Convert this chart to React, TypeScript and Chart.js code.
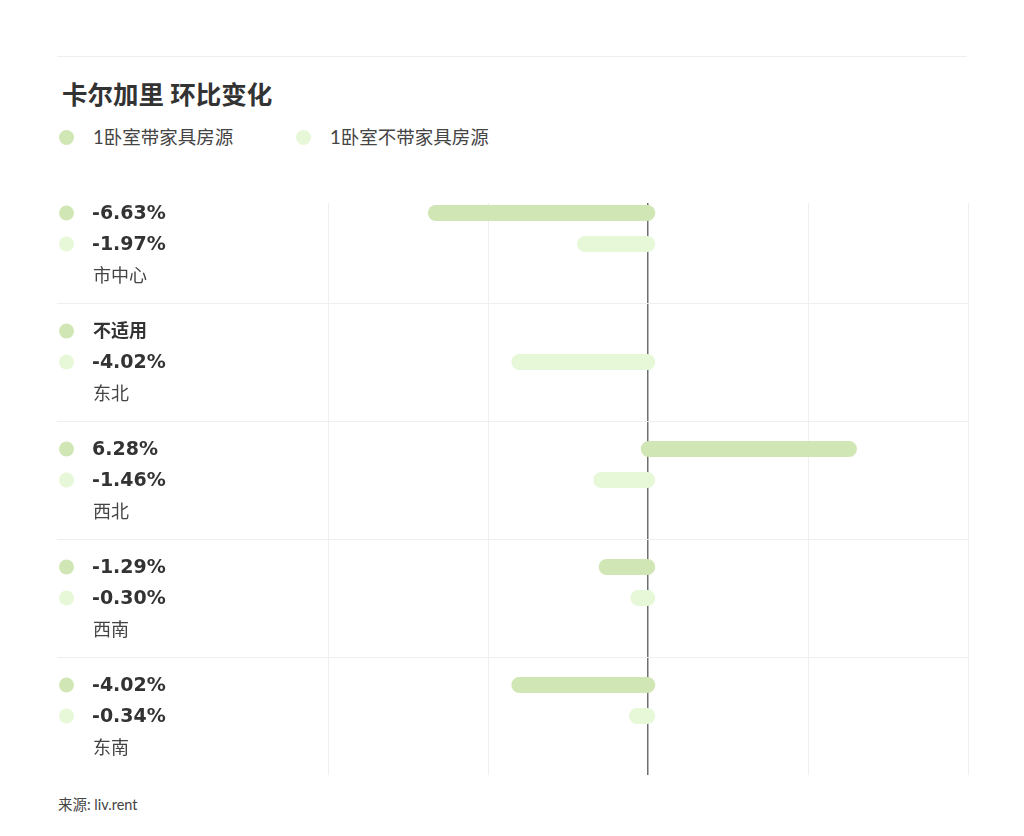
import React, { useEffect, useRef } from "react";
import { Chart, registerables } from "chart.js";

Chart.register(...registerables);

// ---- data ----
const TITLE = "卡尔加里 环比变化";
const SERIES_NAMES = ["1卧室带家具房源", "1卧室不带家具房源"];
const DISTRICTS = ["市中心", "东北", "西北", "西南", "东南"];
const FURNISHED: (number | null)[] = [-6.63, null, 6.28, -1.29, -4.02];
const UNFURNISHED: (number | null)[] = [-1.97, -4.02, -1.46, -0.3, -0.34];
const X_MIN = -10;
const X_MAX = 10;
const X_STEP = 5;
const NA_LABEL = "不适用";
const SOURCE = "来源: liv.rent";

const COLORS = ["#d0e6b4", "#e6f8d7"];
const FONT = "Lato, 'Noto Sans CJK SC', sans-serif";
const VALUE_FONT = "'DejaVu Sans', 'Noto Sans CJK SC', sans-serif";

const CAP = 8;

const capPlugin = {
  id: "roundCaps",
  afterDatasetsUpdate(chart: any) {
    [FURNISHED, UNFURNISHED].forEach((series, d) => {
      const meta = chart.getDatasetMeta(d);
      meta.data.forEach((el: any, i: number) => {
        const v = series[i];
        if (v == null) return;
        const dir = v >= 0 ? 1 : -1;
        el.x += dir * CAP;
        el.base -= dir * CAP;
      });
    });
  },
};

const maskPlugin = {
  id: "topMask",
  beforeDatasetsDraw(chart: any) {
    const { ctx, chartArea } = chart;
    ctx.save();
    ctx.fillStyle = "#ffffff";
    ctx.fillRect(chartArea.left - 2, chartArea.top - 1, chartArea.right - chartArea.left + 4, 19);
    ctx.restore();
  },
};

const labelPlugin = {
  id: "rowLabels",
  afterDraw(chart: any) {
    const ctx = chart.ctx;
    const m0 = chart.getDatasetMeta(0);
    const m1 = chart.getDatasetMeta(1);
    const m2 = chart.getDatasetMeta(2);
    const dotX = 66.5 - 57;
    const textX = 92 - 57;
    ctx.save();
    ctx.textBaseline = "middle";
    ctx.textAlign = "left";
    DISTRICTS.forEach((name, i) => {
      const rows = [
        { y: m0.data[i].y, v: FURNISHED[i], color: COLORS[0] },
        { y: m1.data[i].y, v: UNFURNISHED[i], color: COLORS[1] },
      ];
      rows.forEach((r) => {
        ctx.fillStyle = r.color;
        ctx.beginPath();
        ctx.arc(dotX, r.y, 7.5, 0, Math.PI * 2);
        ctx.fill();
        ctx.fillStyle = "#333333";
        if (r.v == null) {
          ctx.font = `bold 18px ${FONT}`;
          ctx.fillText(NA_LABEL, textX + 1, r.y);
        } else {
          ctx.font = `bold 19px ${VALUE_FONT}`;
          ctx.fillText(r.v.toFixed(2) + "%", textX, r.y + 1);
        }
      });
      ctx.fillStyle = "#444444";
      ctx.font = `18px ${FONT}`;
      ctx.fillText(name, textX + 1, m2.data[i].y + 1);
    });
    ctx.restore();
  },
};

function BarChart() {
  const ref = useRef<HTMLCanvasElement | null>(null);
  useEffect(() => {
    if (!ref.current) return;
    const chart = new Chart(ref.current, {
      type: "bar",
      data: {
        labels: DISTRICTS,
        datasets: [
          {
            label: SERIES_NAMES[0],
            data: FURNISHED,
            backgroundColor: COLORS[0],
          },
          {
            label: SERIES_NAMES[1],
            data: UNFURNISHED,
            backgroundColor: COLORS[1],
          },
          {
            label: "",
            data: DISTRICTS.map(() => null),
            backgroundColor: "rgba(0,0,0,0)",
          },
        ],
      },
      options: {
        indexAxis: "y",
        responsive: false,
        animation: false,
        events: [],
        layout: { padding: { top: 0, right: 9, bottom: 10, left: 0 } },
        datasets: {
          bar: {
            categoryPercentage: 0.788,
            barPercentage: 0.516,
            borderRadius: 8,
            borderSkipped: false,
            borderWidth: 0,
            inflateAmount: 0,
          },
        },
        plugins: {
          legend: { display: false },
          tooltip: { enabled: false },
          title: { display: false },
        },
        scales: {
          x: {
            type: "linear",
            min: X_MIN,
            max: X_MAX,
            ticks: { display: false, stepSize: X_STEP },
            border: { display: false },
            grid: {
              drawTicks: false,
              color: (c: any) => (c.tick && c.tick.value === 0 ? "#6e6e6e" : "#efefef"),
              lineWidth: (c: any) => (c.tick && c.tick.value === 0 ? 1.5 : 1),
            },
            afterFit: (s: any) => {
              s.height = 0;
            },
          },
          y: {
            type: "category",
            ticks: { display: false },
            border: { display: false },
            grid: {
              offset: true,
              drawTicks: true,
              tickLength: 271,
              color: (c: any) =>
                typeof c.index === "number" && c.index >= 1 && c.index <= DISTRICTS.length - 1
                  ? "#efefef"
                  : "rgba(0,0,0,0)",
            },
            afterFit: (s: any) => {
              s.width = 271;
            },
          },
        },
      },
      plugins: [capPlugin, maskPlugin, labelPlugin],
    } as any);
    return () => chart.destroy();
  }, []);
  return <canvas ref={ref} width={920} height={600} style={{ display: "block" }} />;
}

export default function App() {
  const legendItems = [
    { dot: 66.5, text: 93, name: SERIES_NAMES[0], color: COLORS[0] },
    { dot: 303, text: 330, name: SERIES_NAMES[1], color: COLORS[1] },
  ];
  return (
    <div
      style={{
        position: "relative",
        width: 1008,
        height: 816,
        background: "#ffffff",
        fontFamily: FONT,
      }}
    >
      <div
        style={{
          position: "absolute",
          left: 49,
          top: 48,
          width: 910,
          height: 1,
          background: "#eeeeee",
        }}
      />
      <div
        style={{
          position: "absolute",
          left: 54,
          top: 71,
          fontSize: 25.5,
          lineHeight: "30px",
          fontWeight: 700,
          color: "#333333",
          whiteSpace: "nowrap",
        }}
      >
        {TITLE}
      </div>
      {legendItems.map((it, i) => (
        <React.Fragment key={i}>
          <div
            style={{
              position: "absolute",
              left: it.dot - 7.5 - 8,
              top: 137 - 7.5 - 8,
              width: 15,
              height: 15,
              borderRadius: "50%",
              background: it.color,
            }}
          />
          <div
            style={{
              position: "absolute",
              left: it.text - 8,
              top: 137 - 12 - 8,
              fontSize: 18.5,
              lineHeight: "24px",
              color: "#444444",
              whiteSpace: "nowrap",
            }}
          >
            {it.name}
          </div>
        </React.Fragment>
      ))}
      <div style={{ position: "absolute", left: 49, top: 177, width: 920, height: 600 }}>
        <BarChart />
      </div>
      <div
        style={{
          position: "absolute",
          left: 50,
          top: 787,
          fontSize: 14.5,
          lineHeight: "20px",
          color: "#444444",
          whiteSpace: "nowrap",
        }}
      >
        {SOURCE}
      </div>
    </div>
  );
}
